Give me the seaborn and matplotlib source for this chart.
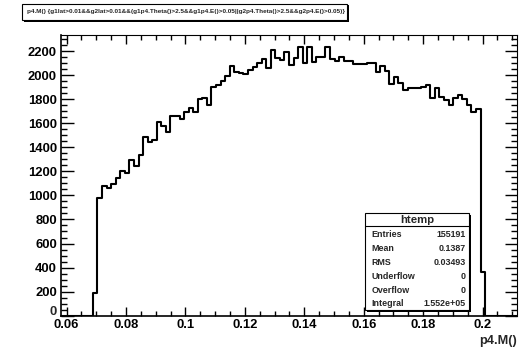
import numpy as np
import pandas as pd
import matplotlib
matplotlib.use("Agg")
import matplotlib.pyplot as plt
from matplotlib.patches import Rectangle
from matplotlib.ticker import MultipleLocator, FuncFormatter
import seaborn as sns

# Histogram definition: 100 equal bins of p4.M()
x_low, x_high, n_bins = 0.0581, 0.2116, 100
y_top = 2336

counts = [
    0, 0, 0, 0, 0, 0, 0, 185, 976, 1078,
    1059, 1092, 1145, 1205, 1183, 1294, 1244, 1338, 1483, 1448,
    1460, 1608, 1580, 1530, 1660, 1660, 1632, 1691, 1724, 1696,
    1805, 1810, 1755, 1904, 1918, 1954, 1993, 2076, 2028, 2020,
    2009, 2042, 2070, 2103, 2134, 2056, 2209, 2139, 2125, 2189,
    2084, 2139, 2231, 2098, 2231, 2106, 2153, 2153, 2236, 2131,
    2120, 2153, 2118, 2115, 2092, 2092, 2092, 2098, 2104, 2023,
    2076, 2037, 1926, 1987, 1932, 1876, 1890, 1890, 1897, 1904,
    1918, 1807, 1890, 1820, 1793, 1751, 1807, 1834, 1801, 1751,
    1696, 1718, 363, 0, 0, 0, 0, 0, 0, 0,
]

title = ("p4.M() {g1lat>0.01&&g2lat>0.01&&(g1p4.Theta()>2.5&&g1p4.E()>0.05"
         "||g2p4.Theta()>2.5&&g2p4.E()>0.05)}")
x_label = "p4.M()"
stats_name = "htemp"
stats_labels = ["Entries", "Mean", "RMS", "Underflow", "Overflow", "Integral"]
stats_values = ["155191", "0.1387", "0.03493", "0", "0", "1.552e+05"]

sns.set_theme(style="white")
plt.rcParams["font.family"] = ["Liberation Sans", "DejaVu Sans"]
plt.rcParams["font.weight"] = "bold"

W, H = 528, 348
fig = plt.figure(figsize=(W / 100, H / 100), dpi=100)
fig.patch.set_facecolor("white")


def fx(x):
    return x / W


def fy(y):
    return 1 - y / H


# frame in pixel units: left, top, right, bottom
L, T, R, B = 61, 34.7, 517, 315.7
ax = fig.add_axes([fx(L), fy(B), (R - L) / W, (B - T) / H])
ax.set_facecolor("white")

edges = np.linspace(x_low, x_high, n_bins + 1)
centers = 0.5 * (edges[:-1] + edges[1:])
df = pd.DataFrame({"p4M": centers, "entries": counts})
sns.histplot(data=df, x="p4M", weights="entries", bins=n_bins,
             binrange=(x_low, x_high), element="step", fill=False,
             color="black", linewidth=1.5, ax=ax)

ax.set_xlim(x_low, x_high)
ax.set_ylim(0, y_top)
ax.set_xlabel("")
ax.set_ylabel("")

ax.xaxis.set_major_locator(MultipleLocator(0.02))
ax.xaxis.set_minor_locator(MultipleLocator(0.005))
ax.yaxis.set_major_locator(MultipleLocator(200))
ax.yaxis.set_minor_locator(MultipleLocator(50))
ax.xaxis.set_major_formatter(FuncFormatter(lambda v, p: f"{v:g}"))
# the zero label is drawn separately, raised a little above the x labels
ax.yaxis.set_major_formatter(FuncFormatter(lambda v, p: "" if v == 0 else f"{v:g}"))

ax.tick_params(axis="x", which="major", direction="in", length=6.5, width=1,
               top=True, bottom=True, pad=2.2, labelsize=9.4, colors="black")
ax.tick_params(axis="x", which="minor", direction="in", length=3.3, width=1,
               top=True, bottom=True, colors="black")
ax.tick_params(axis="y", which="major", direction="in", length=9, width=1,
               left=True, right=True, pad=3, labelsize=9.4, colors="black")
ax.tick_params(axis="y", which="minor", direction="in", length=4.5, width=1,
               left=True, right=True, colors="black")
for lab in ax.get_xticklabels() + ax.get_yticklabels():
    lab.set_fontweight("bold")
for name, sp in ax.spines.items():
    sp.set_color("black")
    sp.set_linewidth(1.2 if name in ("left", "bottom") else 0.8)

ax.annotate("0", xy=(0, 0), xycoords="axes fraction", xytext=(-3, 2.6),
            textcoords="offset points", ha="right", va="center",
            fontsize=9.4, fontweight="bold", annotation_clip=False)

# axis title at the right end of the x axis
fig.text(fx(R), fy(341), x_label, ha="right", va="center",
         fontsize=9.2, fontweight="bold")


def pave(x0, y0, x1, y1, shadow=2):
    fig.patches.append(Rectangle((fx(x0 + shadow), fy(y1 + shadow)),
                                 (x1 - x0) / W, (y1 - y0) / H,
                                 transform=fig.transFigure, facecolor="black",
                                 edgecolor="none", zorder=5))
    fig.patches.append(Rectangle((fx(x0), fy(y1)), (x1 - x0) / W, (y1 - y0) / H,
                                 transform=fig.transFigure, facecolor="white",
                                 edgecolor="black", linewidth=0.8, zorder=6))


# title pave
pave(22, 4, 347, 20, shadow=1.5)
t = fig.text(fx(186), fy(12), title, ha="center", va="center",
             fontsize=4.0, fontweight="bold", zorder=7)
fig.canvas.draw()
w = t.get_window_extent().width
t.set_fontsize(4.0 * 314 / w)

# statistics pave
sx0, sy0, sx1, sy1 = 365, 213.3, 469.3, 310
pave(sx0, sy0, sx1, sy1, shadow=1.5)
fig.add_artist(plt.Line2D([fx(sx0), fx(sx1)], [fy(226), fy(226)],
                          transform=fig.transFigure, color="black",
                          linewidth=0.8, zorder=7))
fig.text(fx((sx0 + sx1) / 2), fy(220), stats_name, ha="center", va="center",
         fontsize=8.2, fontweight="bold", zorder=7)
row_y = [234.5, 248.5, 262.5, 276.5, 290.3, 304]
for yy, lab, val in zip(row_y, stats_labels, stats_values):
    fig.text(fx(371.5), fy(yy), lab, ha="left", va="center",
             fontsize=6.4, fontweight="bold", zorder=7)
    fig.text(fx(466), fy(yy), val, ha="right", va="center",
             fontsize=6.4, fontweight="bold", zorder=7)

fig.savefig("out.png", dpi=100, facecolor="white")
